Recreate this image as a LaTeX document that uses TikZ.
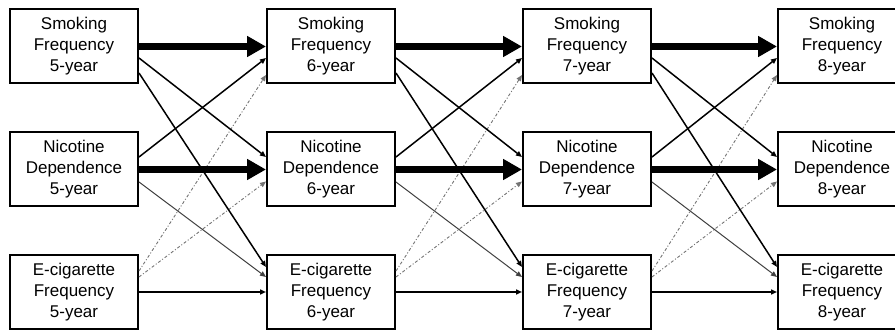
\documentclass[tikz,border=0pt]{standalone}
\usepackage{fontspec}
\setmainfont{Liberation Sans}
\usetikzlibrary{arrows.meta}
\begin{document}
\begin{tikzpicture}[x=1pt,y=-1pt,
  box/.style={draw=black,line width=2pt,minimum width=128pt,minimum height=74pt,
    align=center,inner sep=0pt,font=\fontsize{17}{21}\selectfont,fill=white},
  strong/.style={line width=7pt,-{Triangle[length=19pt,width=20pt]}},
  medium/.style={line width=1.5pt,black,-{Triangle[length=6pt,width=5pt]}},
  weak/.style={line width=1pt,black!75,-{Triangle[length=6pt,width=5pt]}},
  dotdash/.style={line width=0.9pt,black!55,dash pattern=on 3pt off 2pt on 1pt off 2pt,
    -{Triangle[length=6pt,width=5pt]}}]
\useasboundingbox (0,0) rectangle (895,331);
\begin{scope}
\clip (0,0) rectangle (895,331);
\foreach \k/\x in {5/74,6/331,7/587,8/842}{
  \node[box] (S\k) at (\x,46.5) {Smoking\\Frequency\\\k-year};
  \node[box] (N\k) at (\x,169.5) {Nicotine\\Dependence\\\k-year};
  \node[box] (E\k) at (\x,292) {E-cigarette\\Frequency\\\k-year};
}
\foreach \a/\b in {5/6,6/7,7/8}{
  \draw[dotdash] ([yshift=21pt]E\a.east) -- ([yshift=-28.5pt]S\b.west);
  \draw[dotdash] ([yshift=15pt]E\a.east) -- ([yshift=-12pt]N\b.west);
  \draw[weak] ([yshift=-12.5pt]N\a.east) -- ([yshift=15pt]E\b.west);
  \draw[medium] ([yshift=-11.5pt]S\a.east) -- ([yshift=12.5pt]N\b.west);
  \draw[medium] ([yshift=-26.5pt]S\a.east) -- ([yshift=25pt]E\b.west);
  \draw[medium] ([yshift=12.5pt]N\a.east) -- ([yshift=-11.5pt]S\b.west);
  \draw[medium] (E\a.east) -- (E\b.west);
  \draw[strong] (S\a.east) -- (S\b.west);
  \draw[strong] (N\a.east) -- (N\b.west);
}
\end{scope}
\end{tikzpicture}
\end{document}
